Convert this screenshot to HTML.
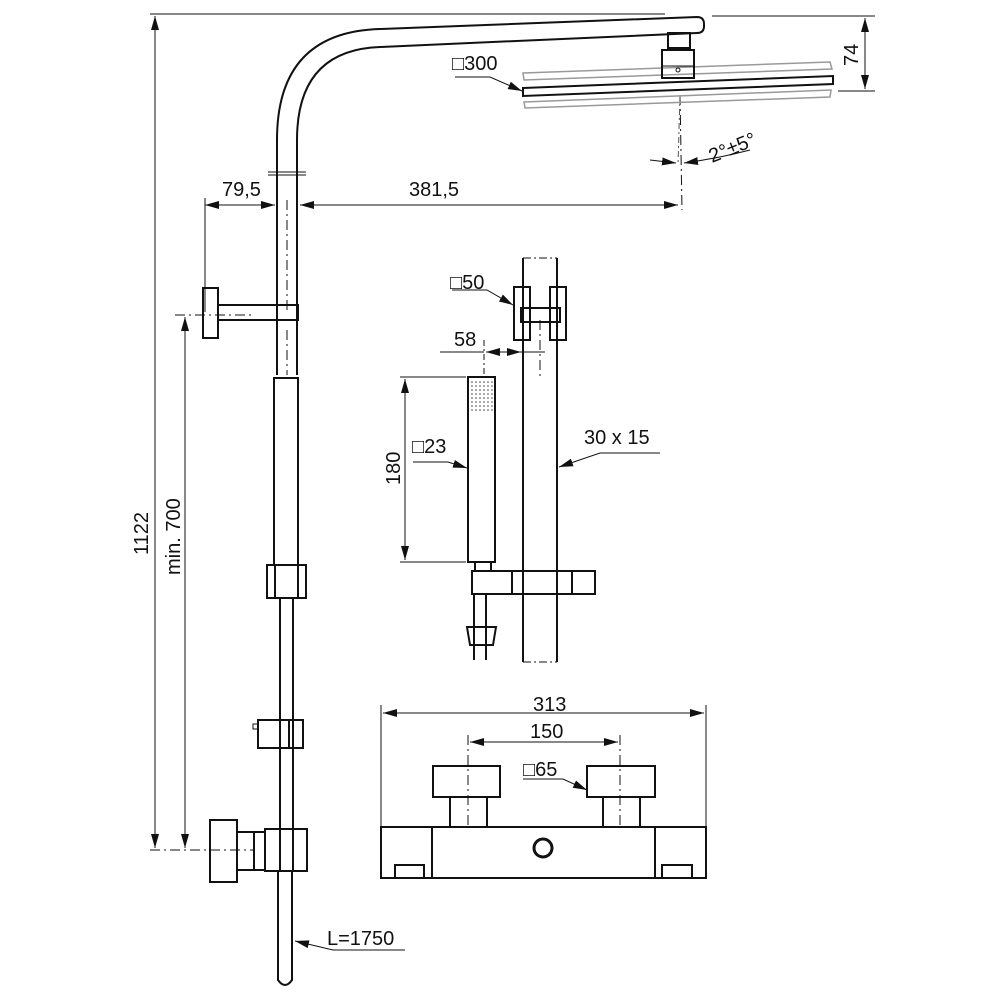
<!DOCTYPE html>
<html><head><meta charset="utf-8"><style>
html,body{margin:0;padding:0;background:#fff;width:1000px;height:1000px;overflow:hidden}
svg{display:block}
text{font-family:"Liberation Sans",sans-serif;font-size:20px;fill:#111}
</style></head><body>
<svg width="1000" height="1000" viewBox="0 0 1000 1000" xmlns="http://www.w3.org/2000/svg">
<defs>
<marker id="a" viewBox="0 0 14 8" refX="14" refY="4" markerWidth="14" markerHeight="8" orient="auto-start-reverse" markerUnits="userSpaceOnUse"><path d="M0,0L14,4L0,8z" fill="#111"/></marker>
</defs>
<g stroke="#111" fill="none" stroke-width="1">
<line x1="150" y1="14" x2="665" y2="14"/>
<line x1="155" y1="16" x2="155" y2="848" marker-start="url(#a)" marker-end="url(#a)"/>
<line x1="712" y1="16" x2="875" y2="16"/>
<line x1="838" y1="91" x2="875" y2="91"/>
<line x1="865" y1="18" x2="865" y2="89" marker-start="url(#a)" marker-end="url(#a)"/>
<line x1="185" y1="317" x2="185" y2="848" marker-start="url(#a)" marker-end="url(#a)"/>
<line x1="175" y1="315" x2="252" y2="315" stroke-dasharray="10,4,2,4"/>
<line x1="150" y1="850" x2="255" y2="850" stroke-dasharray="10,4,2,4"/>
<line x1="205" y1="198" x2="205" y2="312"/>
<line x1="205" y1="205" x2="275" y2="205" marker-start="url(#a)" marker-end="url(#a)"/>
<line x1="300" y1="205" x2="678" y2="205" marker-start="url(#a)" marker-end="url(#a)"/>
<line x1="287" y1="200" x2="287" y2="310" stroke-dasharray="10,4,2,4"/>
<line x1="287" y1="330" x2="287" y2="375" stroke-dasharray="10,4,2,4"/>
<line x1="680" y1="95" x2="682" y2="210" stroke-dasharray="10,4,2,4"/>
<line x1="680" y1="95" x2="678" y2="165" stroke-dasharray="6,3,2,3" stroke="#555"/>
<line x1="268" y1="172" x2="306" y2="172"/><line x1="268" y1="175" x2="306" y2="175"/>
<path d="M650,160 L676,163" marker-end="url(#a)"/>
<path d="M750,150 Q720,158 684,163" marker-end="url(#a)"/>
</g>
<g stroke="#999" fill="none" stroke-width="1.5">
<path d="M523,73 L830,62 L832,69 L524,80 Z"/>
<path d="M524,102 L831,90 L830,97 L525,108 Z" />
</g>
<g stroke="#111" fill="none" stroke-width="2">
<path d="M277,375 L277,140 Q277,32 380,29 L697,17 Q704,17 704,24 L704,26 Q704,33 697,33 L380,47 Q297,50 297,140 L297,375"/>
<rect x="668" y="33" width="22" height="15"/>
<rect x="662" y="50" width="32" height="28"/>
<line x1="662" y1="66" x2="694" y2="66" stroke-width="1"/>
<circle cx="678" cy="70" r="2" stroke-width="1"/>
<path d="M523,88 L833,76 L833,84 L523,96 Z" fill="#fff"/>
<rect x="203" y="288" width="15" height="50"/>
<rect x="218" y="305" width="80" height="15"/>
<rect x="274" y="378" width="24" height="187"/>
<rect x="267" y="565" width="39" height="33"/>
<line x1="275" y1="565" x2="275" y2="598"/><line x1="298" y1="565" x2="298" y2="598"/>
<line x1="280" y1="598" x2="280" y2="830"/><line x1="293" y1="598" x2="293" y2="830"/>
<rect x="258" y="720" width="45" height="28"/>
<line x1="289" y1="720" x2="289" y2="748"/>
<rect x="253" y="724" width="5" height="5" stroke-width="1"/>
<rect x="210" y="820" width="27" height="62"/>
<rect x="237" y="832" width="28" height="38"/>
<line x1="254" y1="832" x2="254" y2="870"/>
<rect x="265" y="829" width="42" height="42"/>
<line x1="280" y1="829" x2="280" y2="871"/><line x1="293" y1="829" x2="293" y2="871"/>
<path d="M278,871 L278,980 Q285,990 292,980 L292,871"/>
<line x1="523" y1="258" x2="523" y2="662"/><line x1="557" y1="258" x2="557" y2="662"/>
<rect x="514" y="287" width="16" height="53"/><rect x="550" y="287" width="16" height="53"/>
<rect x="521" y="308" width="39" height="14"/>
<rect x="468" y="377" width="27" height="185"/>
<rect x="475" y="562" width="16" height="9"/>
<path d="M472,571 H595 V594 H472 Z"/>
<line x1="512" y1="571" x2="512" y2="594"/><line x1="572" y1="571" x2="572" y2="594"/>
<line x1="474" y1="594" x2="474" y2="660"/><line x1="486" y1="594" x2="486" y2="660"/>
<path d="M467,627 L496,627 L493,645 L470,645 Z"/>
<rect x="381" y="827" width="325" height="51"/>
<line x1="432" y1="827" x2="432" y2="878"/><line x1="655" y1="827" x2="655" y2="878"/>
<rect x="395" y="865" width="29" height="13"/><rect x="662" y="865" width="30" height="13"/>
<circle cx="543" cy="848" r="9" stroke-width="3"/>
<rect x="433" y="766" width="67" height="31"/><rect x="450" y="797" width="37" height="30"/>
<rect x="587" y="766" width="68" height="31"/><rect x="603" y="797" width="37" height="30"/>
</g>
<g fill="#444">
<g id="dr"><circle cx="472" cy="382" r="0.8"/><circle cx="476" cy="382" r="0.8"/><circle cx="480" cy="382" r="0.8"/><circle cx="484" cy="382" r="0.8"/><circle cx="488" cy="382" r="0.8"/><circle cx="492" cy="382" r="0.8"/></g>
<use href="#dr" y="4"/><use href="#dr" y="8"/><use href="#dr" y="12"/><use href="#dr" y="16"/><use href="#dr" y="20"/><use href="#dr" y="24"/><use href="#dr" y="28"/>
</g>
<g stroke="#111" fill="none" stroke-width="1">
<line x1="523" y1="258" x2="557" y2="258" stroke-dasharray="8,3,2,3"/>
<line x1="523" y1="662" x2="557" y2="662" stroke-dasharray="8,3,2,3"/>
<line x1="540" y1="320" x2="540" y2="380" stroke-dasharray="10,4,2,4"/>
<line x1="484" y1="340" x2="484" y2="376" stroke-dasharray="6,3,2,3"/>
<line x1="440" y1="352" x2="484" y2="352"/>
<line x1="486" y1="352" x2="521" y2="352" marker-start="url(#a)" marker-end="url(#a)"/>
<line x1="521" y1="352" x2="545" y2="352"/>
<line x1="400" y1="377" x2="466" y2="377"/><line x1="400" y1="562" x2="466" y2="562"/>
<line x1="405" y1="379" x2="405" y2="560" marker-start="url(#a)" marker-end="url(#a)"/>
<polyline points="413,462 448,462 467,468" marker-end="url(#a)"/>
<polyline points="660,453 600,453 559,467" marker-end="url(#a)"/>
<polyline points="452,290 487,290 513,305" marker-end="url(#a)"/>
<polyline points="455,77 490,77 522,91" marker-end="url(#a)"/>
<polyline points="405,950 333,950 295,941" marker-end="url(#a)"/>
<line x1="381" y1="705" x2="381" y2="826"/><line x1="706" y1="705" x2="706" y2="826"/>
<line x1="383" y1="713" x2="704" y2="713" marker-start="url(#a)" marker-end="url(#a)"/>
<line x1="470" y1="742" x2="618" y2="742" marker-start="url(#a)" marker-end="url(#a)"/>
<line x1="468" y1="735" x2="468" y2="828" stroke-dasharray="10,4,2,4"/>
<line x1="620" y1="735" x2="620" y2="828" stroke-dasharray="10,4,2,4"/>
<polyline points="523,779 563,779 587,790" marker-end="url(#a)"/>
</g>
<text x="222" y="196">79,5</text>
<text x="409" y="196">381,5</text>
<text x="452" y="70">□300</text>
<text x="450" y="289">□50</text>
<text x="454" y="346">58</text>
<text x="412" y="453">□23</text>
<text x="584" y="444">30 x 15</text>
<text x="533" y="711">313</text>
<text x="530" y="738">150</text>
<text x="523" y="776">□65</text>
<text x="327" y="945">L=1750</text>
<text transform="translate(712,163) rotate(-22)">2°±5°</text>
<text transform="translate(858,66) rotate(-90)">74</text>
<text transform="translate(148,555) rotate(-90)">1122</text>
<text transform="translate(180,575) rotate(-90)">min. 700</text>
<text transform="translate(400,485) rotate(-90)">180</text>
</svg>
</body></html>
